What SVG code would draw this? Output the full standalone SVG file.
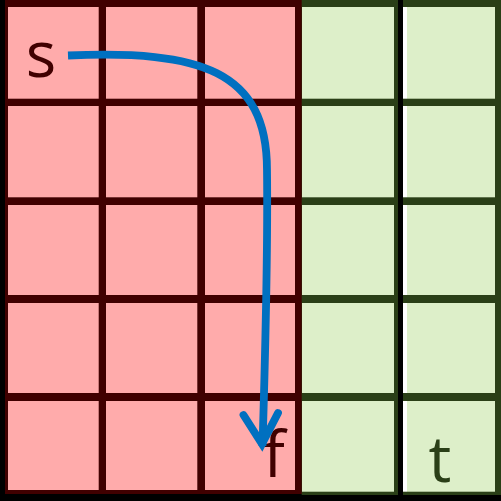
<svg xmlns="http://www.w3.org/2000/svg" width="501" height="501" viewBox="0 0 501 501">
<style>
.p{fill:#FFABAB}
.g{fill:#DDEFC9}
.w{fill:#FFFFFF}
.lbl{font-family:"Open Sans","Liberation Sans",sans-serif;font-size:64px;text-anchor:middle}
.lr{fill:#400000}
.lg{fill:#2A3F17}
.arrow{fill:none;stroke:#0070C0;stroke-width:7.8}
</style>
<rect width="501" height="501" fill="#000"/>
<rect x="5" y="0" width="297" height="494" fill="#400000"/>
<rect x="301.7" y="0" width="199.3" height="495" fill="#2A3F17"/>
<rect x="398" y="0" width="5" height="501" fill="#000"/>
<g id="pink-cells">
<g id="c11"><rect x="8" y="7" width="90.7" height="91.7" class="p"/></g>
<g id="c12"><rect x="106" y="7" width="91.3" height="91.7" class="p"/></g>
<g id="c13"><rect x="205" y="7" width="90" height="91.7" class="p"/></g>
<g id="c21"><rect x="8" y="106" width="90.7" height="91.3" class="p"/></g>
<g id="c22"><rect x="106" y="106" width="91.3" height="91.3" class="p"/></g>
<g id="c23"><rect x="205" y="106" width="90" height="91.3" class="p"/></g>
<g id="c31"><rect x="8" y="205" width="90.7" height="90" class="p"/></g>
<g id="c32"><rect x="106" y="205" width="91.3" height="90" class="p"/></g>
<g id="c33"><rect x="205" y="205" width="90" height="90" class="p"/></g>
<g id="c41"><rect x="8" y="303" width="90.7" height="90" class="p"/></g>
<g id="c42"><rect x="106" y="303" width="91.3" height="90" class="p"/></g>
<g id="c43"><rect x="205" y="303" width="90" height="90" class="p"/></g>
<g id="c51"><rect x="8" y="401" width="90.7" height="89" class="p"/></g>
<g id="c52"><rect x="106" y="401" width="91.3" height="89" class="p"/></g>
<g id="c53"><rect x="205" y="401" width="90" height="89" class="p"/></g>
</g>
<g id="green-cells">
<g id="c14"><rect x="302" y="7" width="92" height="91.7" class="g"/></g>
<g id="c15"><rect x="403" y="7" width="4" height="91.7" class="w"/><rect x="407" y="7" width="88" height="91.7" class="g"/></g>
<g id="c24"><rect x="302" y="106" width="92" height="91.3" class="g"/></g>
<g id="c25"><rect x="403" y="106" width="4" height="91.3" class="w"/><rect x="407" y="106" width="88" height="91.3" class="g"/></g>
<g id="c34"><rect x="302" y="205" width="92" height="90" class="g"/></g>
<g id="c35"><rect x="403" y="205" width="4" height="90" class="w"/><rect x="407" y="205" width="88" height="90" class="g"/></g>
<g id="c44"><rect x="302" y="303" width="92" height="90" class="g"/></g>
<g id="c45"><rect x="403" y="303" width="4" height="90" class="w"/><rect x="407" y="303" width="88" height="90" class="g"/></g>
<g id="c54"><rect x="302" y="401" width="92" height="90.7" class="g"/></g>
<g id="c55"><rect x="403" y="401" width="4" height="90.7" class="w"/><rect x="407" y="401" width="88" height="90.7" class="g"/></g>
</g>
<g id="labels">
<text id="s" class="lbl lr" x="41" y="77">s</text>
<text id="f" class="lbl lr" x="274" y="477">f</text>
<text id="t" class="lbl lg" x="440" y="482">t</text>
</g>
<g id="connectors">
<path class="arrow" d="M68,55.5 C200,50 267,70 267,170 C268,250 266,330 262.5,446"/>
<polyline class="arrow" points="243.5,415 262,444 278,413" stroke-linejoin="miter" stroke-linecap="round"/>
</g>
</svg>
